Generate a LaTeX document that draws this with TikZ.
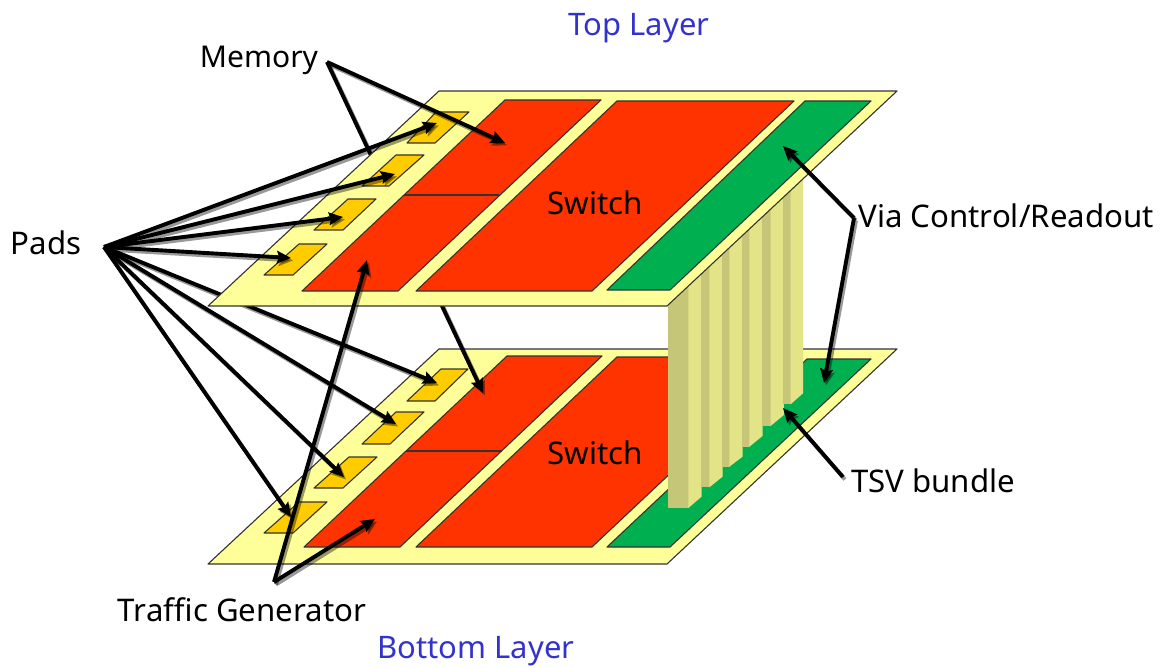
\documentclass[tikz,border=0pt]{standalone}
\usepackage{fontspec}
\setmainfont{Noto Sans}
\usetikzlibrary{arrows.meta}
\pgfdeclarelayer{bottomchip}
\pgfdeclarelayer{bg1}
\pgfdeclarelayer{topchip}
\pgfdeclarelayer{foreground}
\pgfsetlayers{bottomchip,bg1,topchip,main,foreground}
\definecolor{platecol}{HTML}{FFFF99}
\definecolor{memcol}{HTML}{FF3300}
\definecolor{viacol}{HTML}{00B050}
\definecolor{padcol}{HTML}{FFCC00}
\definecolor{tsvdarkcol}{HTML}{C6C678}
\definecolor{tsvlightcol}{HTML}{E3E388}
\definecolor{titlecol}{HTML}{3333CC}
\tikzstyle{face} = [draw=black!80,line width=1.1pt,line join=round]
\tikzstyle{plate} = [face,fill=platecol]
\tikzstyle{membox} = [face,fill=memcol]
\tikzstyle{viabox} = [face,fill=viacol]
\tikzstyle{padbox} = [face,fill=padcol]
\tikzset{
  lbl/.style = {
    font=\fontsize{31.2}{34}\selectfont,
    inner sep=0pt,
    text=black,
  },
  title/.style = {
    lbl,
    font=\fontsize{31}{36}\selectfont,
    text=titlecol,
  },
  lead/.style = {
    -{Stealth[length=14pt,width=12.5pt,inset=2pt]},
    line width=3.9pt,
    black,
  },
  leadshadow/.style = {
    lead,
    draw opacity=.4,
    fill opacity=.4,
    transform canvas={shift={(2pt,-2.5pt)}},
  },
}
\newcommand{\leadline}[2]{
    \draw[leadshadow] (#1) -- (#2);
    \draw[lead] (#1) -- (#2);
}

\begin{document}
\begin{tikzpicture}[x=1pt,y=-1pt]
    \useasboundingbox (0,0) rectangle (1164,668);

    % bottom layer
    \begin{pgfonlayer}{bottomchip}
    \draw[plate] (208,564) -- (439,349) -- (897,349) -- (667,564) -- cycle;
    \draw[membox] (304,547) -- (507,356) -- (602,356) -- (400,547) -- cycle;
    \draw[membox,line width=2pt] (406,451) -- (502,451);
    \draw[membox] (416,547) -- (617,357) -- (794,357) -- (592,547) -- cycle;
    \draw[viabox] (607,547) -- (807,359) -- (871,359) -- (670,547) -- cycle;
    \draw[padbox] (407,401) -- (441,369) -- (468,369) -- (435,401) -- cycle;
    \draw[padbox] (362,444) -- (396,412) -- (424,412) -- (390,444) -- cycle;
    \draw[padbox] (314,488) -- (349,457) -- (377,457) -- (343,488) -- cycle;
    \draw[padbox] (264,533) -- (299,502) -- (327,502) -- (293,533) -- cycle;
    \node[lbl] (switchB) at (595,453) {Switch};
    \end{pgfonlayer}

    % via bundle
    \begin{pgfonlayer}{bg1}
    \foreach \xa/\xb/\xc/\ya/\yb in {668.3/689/701.5/508/496.7,701/710/722.5/487.3/476.7,722/730/742.5/466.7/456.7,742/750/762.5/446.7/436,762/771.2/783.8/426/415,783.3/791.2/803/404.3/393.3}{
        \fill[tsvdarkcol] (\xa,\ya) -- (\xb,\ya) -- (\xb,170) -- (\xa,170) -- cycle;
        \fill[tsvlightcol] (\xb-.6,\ya) -- (\xc,\yb) -- (\xc,170) -- (\xb-.6,170) -- cycle;
    }
    \coordinate (memtipB) at (483,393);
    \coordinate (padtipE) at (437,383);
    \coordinate (padtipF) at (396,424);
    \coordinate (padtipG) at (344,477);
    \coordinate (padtipH) at (291,517);
    \coordinate (memapex) at (327,62);
    \coordinate (padapex) at (104,247);
    \leadline{memapex}{memtipB}
    \foreach \tip in {padtipE,padtipF,padtipG,padtipH}
        {\leadline{padapex}{\tip}}
    \end{pgfonlayer}

    % top layer
    \begin{pgfonlayer}{topchip}
    \draw[plate] (208,306) -- (439,91) -- (897,91) -- (667,306) -- cycle;
    \draw[membox] (302,291) -- (505,100) -- (601,100) -- (398,291) -- cycle;
    \draw[membox,line width=2pt] (404,195) -- (499,195);
    \draw[membox] (416,291) -- (617,101) -- (794,101) -- (592,291) -- cycle;
    \draw[viabox] (607,290) -- (805,101) -- (871,101) -- (670,290) -- cycle;
    \draw[padbox] (407,143) -- (436,112) -- (469,112) -- (435,143) -- cycle;
    \draw[padbox] (362,186) -- (396,155) -- (424,155) -- (389,186) -- cycle;
    \draw[padbox] (314,230) -- (348,199) -- (376,199) -- (343,230) -- cycle;
    \draw[padbox] (264,275) -- (299,244) -- (327,244) -- (293,275) -- cycle;
    \node[lbl] (switchA) at (595,203) {Switch};
    \end{pgfonlayer}

    % labels
    \node[title] (toplbl) at (639,28) {Top Layer};
    \node[title] (botlbl) at (476,651) {Bottom Layer};
    \node[lbl,font=\fontsize{30}{34}\selectfont] (memlbl) at (259,60) {Memory};
    \node[lbl] (padlbl) at (46,243) {Pads};
    \node[lbl] (trafficlbl) at (242,610) {Traffic Generator};
    \node[lbl] (vialbl) at (1006,216) {Via Control/Readout};
    \node[lbl] (tsvlbl) at (933,481) {TSV bundle};

    % arrows
    \begin{pgfonlayer}{foreground}
    \coordinate (memtipA) at (505,143);
    \coordinate (padtipA) at (437,123);
    \coordinate (padtipB) at (395,174);
    \coordinate (padtipC) at (343,217);
    \coordinate (padtipD) at (291,258);
    \coordinate (trafficapex) at (274,582);
    \coordinate (traffictipA) at (367,260);
    \coordinate (traffictipB) at (375,519);
    \coordinate (viaapex) at (854,218);
    \coordinate (viatipA) at (783,146);
    \coordinate (viatipB) at (824,383);
    \coordinate (tsvstart) at (843,477);
    \coordinate (tsvtip) at (783,408);

    \leadline{memapex}{memtipA}
    \foreach \tip in {padtipA,padtipB,padtipC,padtipD}
        {\leadline{padapex}{\tip}}
    \leadline{trafficapex}{traffictipA}
    \leadline{trafficapex}{traffictipB}
    \leadline{viaapex}{viatipA}
    \leadline{viaapex}{viatipB}
    \leadline{tsvstart}{tsvtip}
    \end{pgfonlayer}

\end{tikzpicture}
\end{document}
